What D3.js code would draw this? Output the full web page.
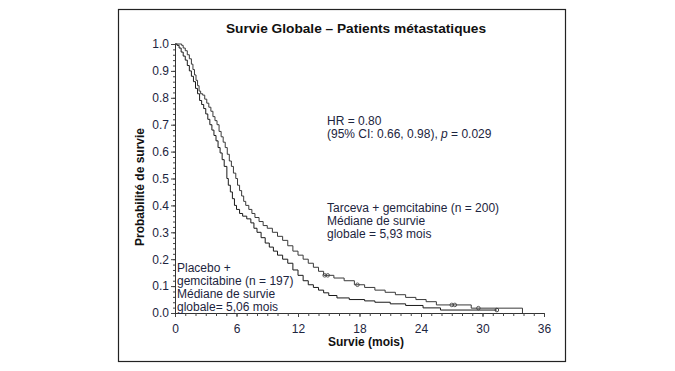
<!DOCTYPE html>
<html>
<head>
<meta charset="utf-8">
<script src="https://cdn.jsdelivr.net/npm/d3@7"></script>
<style>
  html, body { margin: 0; padding: 0; background: #fff; }
  svg { display: block; font-family: "Liberation Sans", Arial, sans-serif; }
</style>
</head>
<body>
<svg id="chart" width="675" height="371"></svg>
<script>
// ---- Data ----
const title = "Survie Globale \u2013 Patients m\u00e9tastatiques";
const xLabel = "Survie (mois)";
const yLabel = "Probabilit\u00e9 de survie";
const xTicks = [0, 6, 12, 18, 24, 30, 36];
const yTicks = [0.0, 0.1, 0.2, 0.3, 0.4, 0.5, 0.6, 0.7, 0.8, 0.9, 1.0];

// Tarceva + gemcitabine : [mois, probabilité]
const tarcevaCurve = [
  [0,1.0],[0.65,0.995],[0.8,0.985],[1.0,0.975],[1.2,0.96],[1.4,0.945],[1.6,0.925],[1.75,0.905],
  [1.9,0.885],[2.05,0.865],[2.2,0.845],[2.35,0.825],[2.5,0.815],[2.7,0.81],[2.9,0.795],[3.1,0.78],
  [3.3,0.765],[3.5,0.75],[3.7,0.73],[3.9,0.715],[4.1,0.70],[4.3,0.675],[4.5,0.655],[4.7,0.635],
  [4.9,0.615],[5.1,0.59],[5.3,0.565],[5.5,0.545],[5.7,0.52],[5.93,0.50],[6.1,0.475],[6.3,0.455],
  [6.5,0.435],[6.7,0.415],[6.9,0.40],[7.2,0.385],[7.5,0.37],[7.8,0.355],[8.2,0.34],[8.6,0.325],
  [9.0,0.315],[9.5,0.30],[10.0,0.285],[10.5,0.27],[11.0,0.25],[11.5,0.23],[12.0,0.215],[12.5,0.20],
  [13.0,0.185],[13.5,0.17],[14.0,0.155],[14.5,0.14],[15.5,0.13],[16.5,0.12],[17.5,0.105],[18.5,0.095],
  [19.5,0.085],[20.5,0.077],[21.5,0.068],[22.5,0.058],[23.5,0.05],[24.5,0.042],[25.5,0.03],
  [28.9,0.018],[33.9,0]
];
const tarcevaCensored = [14.6, 14.9, 17.8, 27.0, 27.3, 29.6];

// Placebo + gemcitabine : [mois, probabilité]
const placeboCurve = [
  [0,1.0],[0.2,0.995],[0.4,0.985],[0.6,0.97],[0.8,0.955],[1.0,0.94],[1.2,0.92],[1.4,0.90],
  [1.6,0.88],[1.8,0.86],[2.0,0.835],[2.2,0.815],[2.4,0.79],[2.6,0.775],[2.8,0.76],[3.0,0.74],
  [3.2,0.72],[3.4,0.70],[3.6,0.68],[3.8,0.66],[4.0,0.64],[4.2,0.615],[4.4,0.595],[4.6,0.57],
  [4.8,0.545],[5.06,0.50],[5.2,0.475],[5.4,0.45],[5.6,0.425],[5.8,0.40],[6.0,0.385],[6.3,0.37],
  [6.6,0.36],[7.0,0.35],[7.4,0.335],[7.7,0.315],[8.0,0.30],[8.4,0.28],[8.8,0.26],[9.2,0.245],
  [9.6,0.23],[10.0,0.215],[10.5,0.20],[11.0,0.185],[11.5,0.16],[12.0,0.14],[12.5,0.12],[13.0,0.105],
  [13.5,0.095],[14.0,0.085],[14.5,0.075],[15.0,0.065],[15.8,0.056],[17.0,0.05],[18.5,0.045],
  [19.5,0.04],[21.0,0.034],[22.5,0.028],[24.2,0.019],[25.9,0.011],[31.4,0.011]
];
const placeboCensored = [31.4];

const hrLines = ["HR = 0.80", "(95% CI: 0.66, 0.98), ", "p", " = 0.029"];
const tarcevaLabel = ["Tarceva + gemcitabine (n = 200)", "M\u00e9diane de survie", "globale = 5,93 mois"];
const placeboLabel = ["Placebo +", "gemcitabine (n = 197)", "M\u00e9diane de survie", "globale= 5,06 mois"];

// ---- Drawing ----
const svg = d3.select("#chart");
const textCol = "#1d2540";

svg.append("rect").attr("x", 118.5).attr("y", 9.5).attr("width", 447).attr("height", 352)
  .attr("fill", "none").attr("stroke", "#222").attr("stroke-width", 1.2);

const x = d3.scaleLinear().domain([0, 36]).range([175, 544]);
const y = d3.scaleLinear().domain([0, 1]).range([313, 44]);

svg.append("text").attr("x", 356).attr("y", 33).attr("text-anchor", "middle")
  .attr("font-weight", "bold").attr("font-size", 13.7).attr("fill", "#111").text(title);

// Axes
const xAxisG = svg.append("g").attr("transform", "translate(0,313)");
xAxisG.call(d3.axisBottom(x).tickValues(xTicks).tickFormat(d3.format("d")).tickSize(4).tickPadding(7));
const xMinor = svg.append("g").attr("transform", "translate(0,313)");
xMinor.call(d3.axisBottom(x).tickValues(d3.range(0, 37, 1)).tickFormat("").tickSize(3));
xMinor.select(".domain").remove();

const yAxisG = svg.append("g").attr("transform", "translate(175,0)");
yAxisG.call(d3.axisLeft(y).tickValues(yTicks).tickFormat(d3.format(".1f")).tickSize(4).tickPadding(2));
const yMinor = svg.append("g").attr("transform", "translate(175,0)");
yMinor.call(d3.axisLeft(y).tickValues(d3.range(0, 51).map(i => i * 0.02)).tickFormat("").tickSize(2));
yMinor.select(".domain").remove();

svg.selectAll(".domain").attr("stroke", "#333");
svg.selectAll(".tick line").attr("stroke", "#444");
svg.selectAll(".tick text").attr("font-size", 12).attr("fill", textCol)
  .attr("font-family", "'Liberation Sans', Arial, sans-serif");

svg.append("text").attr("x", 366).attr("y", 346).attr("text-anchor", "middle")
  .attr("font-weight", "bold").attr("font-size", 12).attr("fill", "#111").text(xLabel);
svg.append("text").attr("transform", "translate(144,187) rotate(-90)").attr("text-anchor", "middle")
  .attr("font-weight", "bold").attr("font-size", 12).attr("fill", "#111").text(yLabel);

// Curves
const line = d3.line().x(d => x(d[0])).y(d => y(d[1])).curve(d3.curveStepAfter);
function survAt(curve, t) {
  let s = curve[0][1];
  for (const p of curve) { if (p[0] <= t) s = p[1]; }
  return s;
}
function drawCurve(curve, cens, color) {
  svg.append("path").datum(curve).attr("d", line).attr("fill", "none")
    .attr("stroke", color).attr("stroke-width", 1);
  svg.append("g").selectAll("circle").data(cens).join("circle")
    .attr("cx", d => x(d)).attr("cy", d => y(survAt(curve, d))).attr("r", 1.8)
    .attr("fill", "none").attr("stroke", color).attr("stroke-width", 0.8);
}
drawCurve(placeboCurve, placeboCensored, "#1a1a1a");
drawCurve(tarcevaCurve, tarcevaCensored, "#3a3a3a");

// Annotations
const ann = svg.append("g").attr("font-size", 12).attr("fill", textCol);
ann.append("text").attr("x", 327).attr("y", 125).text(hrLines[0]);
const l2 = ann.append("text").attr("x", 327).attr("y", 138);
l2.append("tspan").text(hrLines[1]);
l2.append("tspan").attr("font-style", "italic").text(hrLines[2]);
l2.append("tspan").text(hrLines[3]);

tarcevaLabel.forEach((s, i) => ann.append("text").attr("x", 327).attr("y", 212 + i * 13).text(s));
const pann = svg.append("g").attr("font-size", 12).attr("fill", textCol);
placeboLabel.forEach((s, i) => pann.append("text").attr("x", 177).attr("y", 272 + i * 13).text(s));
</script>
</body>
</html>
